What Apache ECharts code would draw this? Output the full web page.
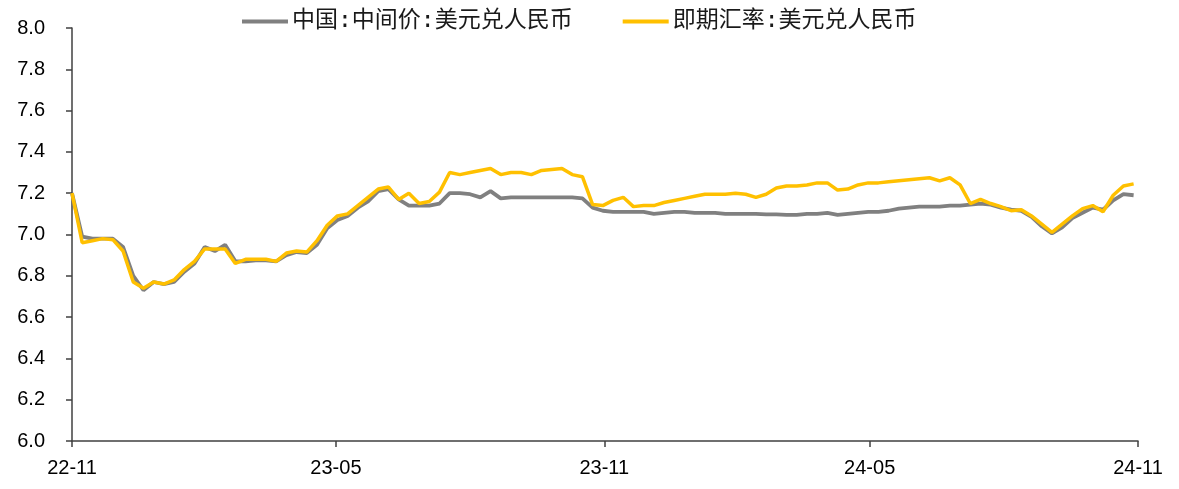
<!DOCTYPE html>
<html>
<head>
<meta charset="utf-8">
<script src="https://cdn.jsdelivr.net/npm/echarts@6/dist/echarts.min.js"></script>
<style>html,body{margin:0;padding:0;background:#fff}#c{width:1179px;height:489px}</style>
</head>
<body>
<div id="c"></div>
<script>
// Weekly observations starting 2022-11-01
const startDate = '2022-11-01';
const stepDays = 7;
const seriesNames = ['中国:中间价:美元兑人民币', '即期汇率:美元兑人民币'];
const midRate = [
7.20,6.99,6.98,6.98,6.98,6.94,6.80,6.73,6.77,6.76,
6.77,6.82,6.86,6.94,6.92,6.95,6.87,6.87,6.875,6.875,
6.87,6.90,6.915,6.91,6.95,7.03,7.07,7.09,7.13,7.16,
7.21,7.22,7.17,7.14,7.14,7.14,7.15,7.20,7.20,7.195,
7.18,7.21,7.175,7.18,7.18,7.18,7.18,7.18,7.18,7.18,
7.175,7.13,7.115,7.11,7.11,7.11,7.11,7.10,7.105,7.11,
7.11,7.105,7.105,7.105,7.10,7.10,7.10,7.10,7.097,7.097,
7.095,7.095,7.10,7.10,7.105,7.095,7.10,7.105,7.11,7.11,
7.115,7.125,7.13,7.135,7.135,7.135,7.14,7.14,7.145,7.15,
7.145,7.13,7.12,7.115,7.085,7.04,7.005,7.035,7.08,7.105,
7.13,7.12,7.165,7.195,7.19
];
const spotRate = [
7.20,6.96,6.97,6.98,6.975,6.92,6.77,6.74,6.77,6.76,
6.78,6.83,6.87,6.93,6.93,6.93,6.86,6.88,6.88,6.88,
6.87,6.91,6.92,6.915,6.97,7.045,7.09,7.10,7.14,7.18,
7.22,7.23,7.17,7.20,7.15,7.16,7.205,7.30,7.29,7.30,
7.31,7.32,7.29,7.30,7.30,7.29,7.31,7.315,7.32,7.29,
7.28,7.145,7.14,7.165,7.18,7.135,7.14,7.14,7.155,7.165,
7.175,7.185,7.195,7.195,7.195,7.20,7.195,7.18,7.195,7.225,
7.235,7.235,7.24,7.25,7.25,7.215,7.22,7.24,7.25,7.25,
7.255,7.26,7.265,7.27,7.275,7.26,7.275,7.24,7.15,7.17,
7.15,7.135,7.115,7.12,7.09,7.05,7.01,7.05,7.09,7.125,
7.14,7.11,7.19,7.235,7.245
];
const xTickDates = ['2022-11-01','2023-05-01','2023-11-01','2024-05-01','2024-11-01'];
const xTickLabels = ['22-11','23-05','23-11','24-05','24-11'];

const DAY = 86400000;
const t0 = Date.parse(startDate + 'T00:00:00Z');
const xTicks = xTickDates.map(d => Date.parse(d + 'T00:00:00Z'));
const toPairs = arr => arr.map((v, i) => [t0 + i * stepDays * DAY, v]);

const chart = echarts.init(document.getElementById('c'));
chart.setOption({
  animation: false,
  backgroundColor: '#ffffff',
  grid: { left: 72, right: 41, top: 28, bottom: 48, containLabel: false },
  legend: {
    left: 237, top: 5,
    itemWidth: 46, itemHeight: 4, itemGap: 50, icon: 'rect',
    textStyle: { fontFamily: '"DejaVu Sans Mono", "Noto Sans CJK SC", sans-serif', fontSize: 23, color: '#1a1a1a', padding: [0,0,0,-1] },
    data: seriesNames
  },
  xAxis: {
    type: 'value',
    min: xTicks[0], max: xTicks[xTicks.length - 1],
    splitLine: { show: false },
    axisLine: { lineStyle: { color: '#404040', width: 1.5 } },
    axisTick: { show: true, inside: false, length: 6, customValues: xTicks, lineStyle: { color: '#404040', width: 1.5 } },
    axisLabel: {
      customValues: xTicks,
      margin: 17,
      fontFamily: 'Liberation Sans, Arial, sans-serif', fontSize: 20, color: '#000',
      formatter: v => { const i = xTicks.indexOf(v); return i >= 0 ? xTickLabels[i] : ''; }
    }
  },
  yAxis: {
    type: 'value', min: 6, max: 8, interval: 0.2,
    splitLine: { show: false },
    axisLine: { show: true, lineStyle: { color: '#404040', width: 1.5 } },
    axisTick: { show: true, inside: false, length: 6, lineStyle: { color: '#404040', width: 1.5 } },
    axisLabel: {
      margin: 27,
      fontFamily: 'Liberation Sans, Arial, sans-serif', fontSize: 20, color: '#000',
      formatter: v => v.toFixed(1)
    }
  },
  series: [
    { name: seriesNames[0], type: 'line', data: toPairs(midRate), showSymbol: false, symbol: 'none',
      color: '#808080', lineStyle: { color: '#808080', width: 3.8 }, z: 2 },
    { name: seriesNames[1], type: 'line', data: toPairs(spotRate), showSymbol: false, symbol: 'none',
      color: '#FFC000', lineStyle: { color: '#FFC000', width: 3.5 }, z: 3 }
  ]
});
</script>
</body>
</html>
